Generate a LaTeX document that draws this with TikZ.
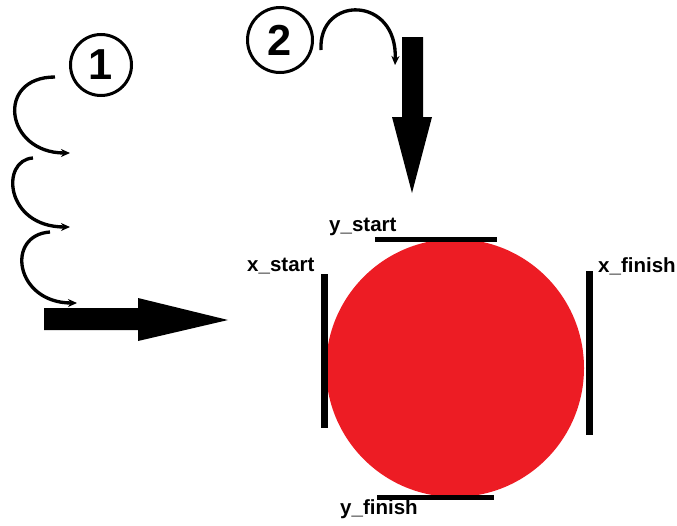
\documentclass[tikz,border=0pt]{standalone}
\usepackage{fontspec}
\setmainfont{Liberation Sans}
\usetikzlibrary{arrows.meta}
\definecolor{ballred}{HTML}{ED1C24}

\tikzset{
	loopline/.style={line width=0.1cm, -{Stealth[length=0.27cm, width=0.24cm]}},
	bar/.style={line width=0.15cm},
	marklabel/.style={anchor=base west, inner sep=0pt, font=\fontsize{17.5}{20}\selectfont\bfseries},
	stepnum/.style={circle, draw, line width=0.09cm, inner sep=0pt, font=\fontsize{37}{40}\selectfont\bfseries},
}

\begin{document}
\begin{tikzpicture}[x=0.03cm, y=-0.03cm]
	\useasboundingbox (0, 0) rectangle (677, 525);
	% Ball and its bounds:
	\fill[ballred] (455, 368) circle (129);
	\draw[bar] (375, 239) -- (497, 239);
	\draw[bar] (377, 497) -- (494, 497);
	\draw[line width=0.21cm] (324, 274) -- (324, 428);
	\draw[line width=0.21cm] (589, 271) -- (589, 435);
	\node[marklabel] (ys) at (329, 231){y\_start};
	\node[marklabel] (xs) at (247, 271){x\_start};
	\node[marklabel] (xf) at (598, 272){x\_finish};
	\node[marklabel] (yf) at (340, 514){y\_finish};
	% Step numbers:
	\node[stepnum, minimum size=1.83cm] (one) at (101, 65){1};
	\node[stepnum, minimum size=1.95cm] (two) at (280, 40){2};
	% Step 1 loops and arrow:
	\coordinate (a1) at (55, 77);
	\coordinate (b1) at (70, 153);
	\coordinate (a2) at (33, 158);
	\coordinate (b2) at (70, 227);
	\coordinate (a3) at (50, 232);
	\coordinate (b3) at (77, 303);
	\draw[loopline] (a1) .. controls (-5, 77) and (5, 153) .. (b1);
	\draw[loopline] (a2) .. controls (0, 160) and (5, 227) .. (b2);
	\draw[loopline] (a3) .. controls (5, 235) and (15, 303) .. (b3);
	\fill (44, 308) -- (138, 308) -- (138, 298) -- (228, 320) -- (138, 341) -- (138, 330) -- (44, 330) -- cycle;
	% Step 2 loop and arrow:
	\coordinate (a4) at (321, 50);
	\coordinate (b4) at (395, 65);
	\draw[loopline] (a4) .. controls (318, -5) and (398, -5) .. (b4);
	\fill (402, 37) -- (423, 37) -- (423, 117) -- (432, 117) -- (412, 193) -- (392, 117) -- (402, 117) -- cycle;
\end{tikzpicture}
\end{document}
